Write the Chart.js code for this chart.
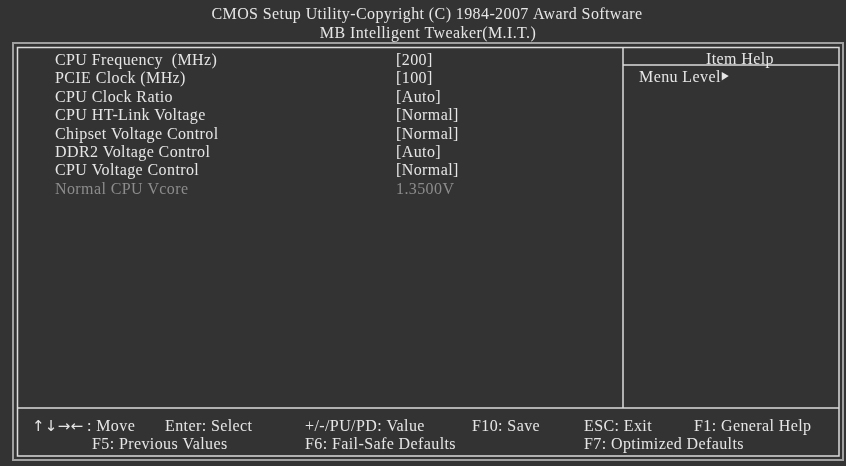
<!DOCTYPE html>
<html>
<head>
<meta charset="utf-8">
<script src="https://cdn.jsdelivr.net/npm/chart.js@4"></script>
<style>
html, body { margin: 0; padding: 0; background: #333333; }
#wrap { width: 846px; height: 466px; position: relative; }
</style>
</head>
<body>
<div id="wrap"><canvas id="bios"></canvas></div>
<script>
// texts of the screen
const titleLines = ["CMOS Setup Utility-Copyright (C) 1984-2007 Award Software", "MB Intelligent Tweaker(M.I.T.)"];
const itemNames = ["CPU Frequency  (MHz)", "PCIE Clock (MHz)", "CPU Clock Ratio", "CPU HT-Link Voltage",
    "Chipset Voltage Control", "DDR2 Voltage Control", "CPU Voltage Control", "Normal CPU Vcore"];
const itemValues = ["[200]", "[100]", "[Auto]", "[Normal]", "[Normal]", "[Auto]", "[Normal]", "1.3500V"];
const itemEnabled = [true, true, true, true, true, true, true, false];
const helpTitle = "Item Help";
const helpText = "Menu Level";
const moveArrows = "\u2191\u2193\u2192\u2190";
const keysLine1 = [": Move", "Enter: Select", "+/-/PU/PD: Value", "F10: Save", "ESC: Exit", "F1: General Help"];
const keysLine2 = ["F5: Previous Values", "F6: Fail-Safe Defaults", "F7: Optimized Defaults"];

const FONT = '16px "Liberation Serif", "Times New Roman", serif';
const TXT = "#e6e6e6";
const DIM = "#8c8c8c";

const screenPlugin = {
    id: "biosScreen",
    afterDraw(chart) {
        const ctx = chart.ctx;
        const sx = chart.scales.x, sy = chart.scales.y;
        const X = v => sx.getPixelForValue(v);
        const Y = v => sy.getPixelForValue(v);

        ctx.save();
        // frame
        ctx.strokeStyle = "#a0a0a0";
        ctx.lineWidth = 2;
        ctx.strokeRect(X(13), Y(43), X(843) - X(13), Y(460) - Y(43));
        ctx.strokeStyle = "#dcdcdc";
        ctx.lineWidth = 1.5;
        ctx.strokeRect(X(17.5), Y(47.5), X(839) - X(17.5), Y(456) - Y(47.5));
        ctx.beginPath();
        ctx.moveTo(X(17.5), Y(408)); ctx.lineTo(X(839), Y(408));
        ctx.moveTo(X(623), Y(47.5)); ctx.lineTo(X(623), Y(408));
        ctx.moveTo(X(623), Y(65)); ctx.lineTo(X(839), Y(65));
        ctx.stroke();

        ctx.font = FONT;
        ctx.letterSpacing = "0.4px";
        ctx.textBaseline = "alphabetic";
        ctx.fillStyle = TXT;

        // title
        ctx.textAlign = "center";
        ctx.fillText(titleLines[0], X(427), Y(18.5));
        ctx.fillText(titleLines[1], X(428), Y(37.5));
        ctx.fillText(helpTitle, X(740), Y(64));

        // items
        ctx.textAlign = "left";
        itemNames.forEach(function (name, i) {
            const base = 65 + i * 18.4;
            ctx.fillStyle = itemEnabled[i] ? TXT : DIM;
            ctx.fillText(name, X(55), Y(base));
            ctx.fillText(itemValues[i], X(396), Y(base));
        });

        // help panel
        ctx.fillStyle = TXT;
        ctx.fillText(helpText, X(639), Y(81.5));
        const tx = X(639) + ctx.measureText(helpText).width + 1;
        ctx.beginPath();
        ctx.moveTo(tx, Y(72)); ctx.lineTo(tx + 7, Y(76)); ctx.lineTo(tx, Y(80.5));
        ctx.closePath();
        ctx.fill();

        // key help
        const col1 = [87, 165, 305, 472, 584, 694];
        keysLine1.forEach(function (k, i) { ctx.fillText(k, X(col1[i]), Y(430.5)); });
        const col2 = [92, 305, 584];
        keysLine2.forEach(function (k, i) { ctx.fillText(k, X(col2[i]), Y(449)); });

        ctx.font = '15px "DejaVu Sans", sans-serif';
        ctx.letterSpacing = "0.3px";
        ctx.fillText(moveArrows, X(32), Y(431));
        ctx.restore();
    }
};

new Chart(document.getElementById("bios").getContext("2d"), {
    type: "scatter",
    data: { datasets: [{ data: [] }] },
    options: {
        responsive: true,
        maintainAspectRatio: false,
        animation: false,
        layout: { padding: 0 },
        plugins: { legend: { display: false }, tooltip: { enabled: false } },
        scales: {
            x: { type: "linear", min: 0, max: 846, display: false },
            y: { type: "linear", min: 0, max: 466, reverse: true, display: false }
        }
    },
    plugins: [screenPlugin]
});
</script>
</body>
</html>
